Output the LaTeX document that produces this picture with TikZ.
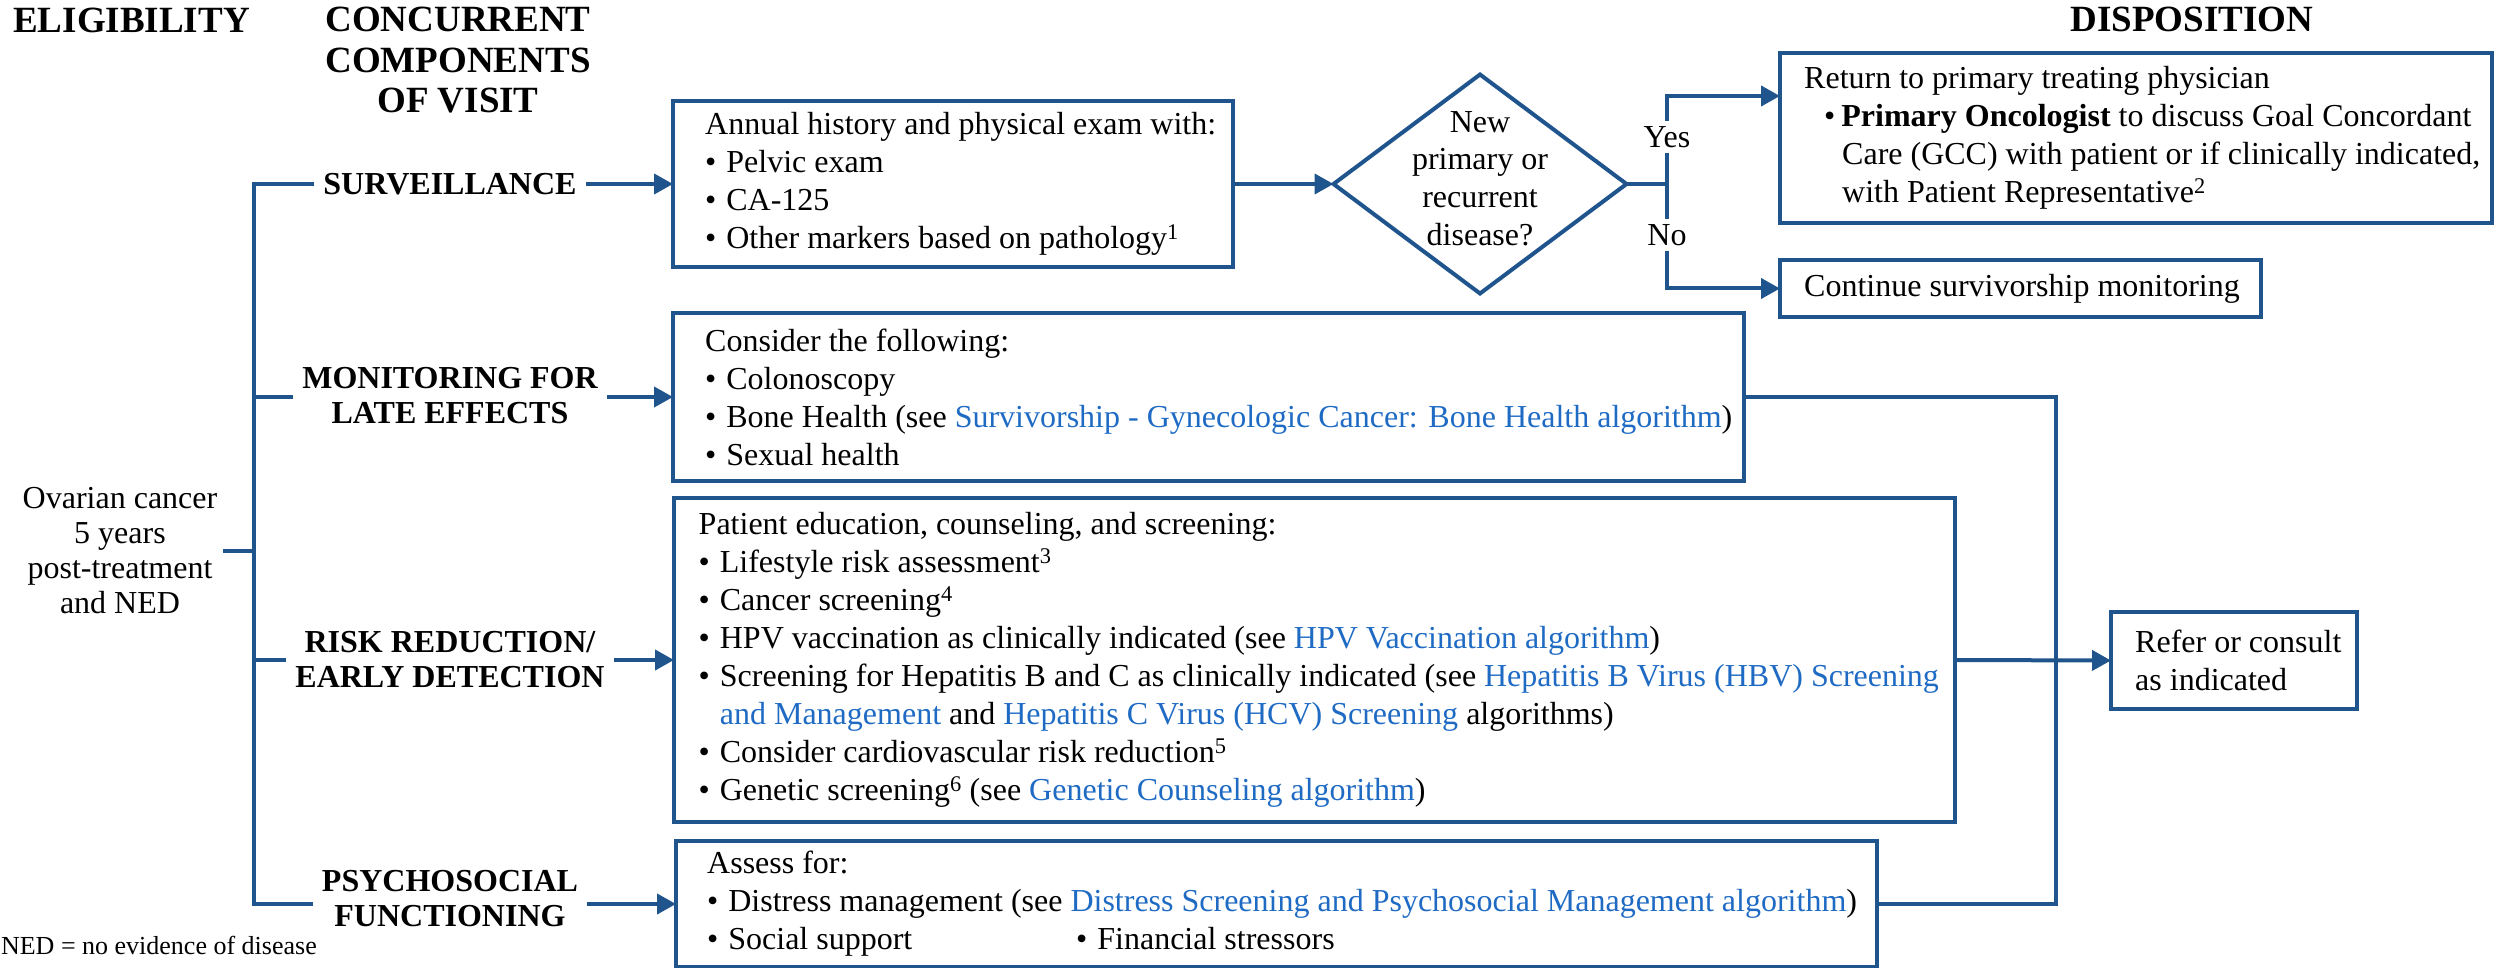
\documentclass[tikz,border=0pt]{standalone}
\usepackage{fontspec}
\setmainfont{Liberation Serif}
\usetikzlibrary{shapes.geometric,arrows.meta,calc}
\definecolor{nccnblue}{HTML}{1F548C}
\definecolor{linkblue}{HTML}{1F6BC4}
\newcommand{\lnk}[1]{\textcolor{linkblue}{#1}}
\newcommand{\bul}{\textbullet\hspace{10pt}}
\begin{document}
\begin{tikzpicture}[x=1pt,y=-1pt,
  line/.style={draw=nccnblue, line width=4pt},
  arr/.style={draw=nccnblue, line width=4pt, -{Triangle[length=19pt,width=20pt]}},
  box/.style={draw=nccnblue, line width=4pt, anchor=north west, inner sep=0pt, outer sep=0pt},
  body/.style={font=\fontsize{32}{38}\selectfont, align=left, inner sep=0pt, anchor=west},
  lbl/.style={font=\fontsize{32}{35}\selectfont\bfseries, align=center, inner xsep=9pt, inner ysep=2pt},
  hdr/.style={font=\fontsize{37}{40.5}\selectfont\bfseries, align=center, inner sep=0pt},
  yn/.style={font=\fontsize{32}{38}\selectfont, inner sep=5pt},
]
\useasboundingbox (0,0) rectangle (2513,968);

% headers
\node[hdr] (hElig) at (131.5,20) {ELIGIBILITY};
\node[hdr] (hConc) at (458,60.5) {CONCURRENT\\COMPONENTS\\OF VISIT};
\node[hdr] (hDisp) at (2192,19) {DISPOSITION};

% eligibility
\node[font=\fontsize{32}{35}\selectfont, align=center, inner xsep=6pt, inner ysep=0pt] (ov) at (120,551) {Ovarian cancer\\5 years\\post-treatment\\and NED};
\node[font=\fontsize{26}{30}\selectfont, anchor=east, inner sep=0pt] (ned) at (317,945) {NED = no evidence of disease};

% component labels
\node[lbl] (lsurv) at (450,184) {SURVEILLANCE};
\node[lbl] (lmon) at (450,396) {MONITORING FOR\\LATE EFFECTS};
\node[lbl] (lrisk) at (450,660) {RISK REDUCTION/\\EARLY DETECTION};
\node[lbl] (lpsy) at (450,899) {PSYCHOSOCIAL\\FUNCTIONING};

\coordinate (tTop) at (253.6,184);
\coordinate (tBot) at (253.6,904);

% boxes
\node[box, minimum width=560pt, minimum height=166pt] (survBox) at (673,101) {};
\node[box, minimum width=1071pt, minimum height=168pt] (monBox) at (673,313) {};
\node[box, minimum width=1281pt, minimum height=324pt] (riskBox) at (674,498) {};
\node[box, minimum width=1201pt, minimum height=126pt] (psyBox) at (676,841) {};
\node[box, minimum width=712pt, minimum height=170pt] (retBox) at (1780,53) {};
\node[box, minimum width=481pt, minimum height=57pt] (contBox) at (1780,260) {};
\node[box, minimum width=246pt, minimum height=97pt] (referBox) at (2111,612) {};

\node[diamond, draw=nccnblue, line width=4pt, minimum width=293pt, minimum height=219pt, inner sep=0pt, outer sep=0pt] (dia) at (1480,184) {};
\node[font=\fontsize{32}{37.7}\selectfont, align=center, inner sep=0pt] (diaTxt) at (1480,178.5) {New\\primary or\\recurrent\\disease?};

% box texts
\node[body] (survTxt) at ($(survBox.west)+(32,0)$) {Annual history and physical exam with:\\
\bul Pelvic exam\\
\bul CA-125\\
\bul Other markers based on pathology\textsuperscript{1}};

\node[body] (monTxt) at ($(monBox.west)+(32,0)$) {Consider the following:\\
\bul Colonoscopy\\
\bul Bone Health (see \lnk{Survivorship - Gynecologic Cancer: Bone Health algorithm})\\
\bul Sexual health};

\node[body] (riskTxt) at ($(riskBox.west)+(24.5,0)$) {Patient education, counseling, and screening:\\
\bul Lifestyle risk assessment\textsuperscript{3}\\
\bul Cancer screening\textsuperscript{4}\\
\bul HPV vaccination as clinically indicated (see \lnk{HPV Vaccination algorithm})\\
\bul Screening for Hepatitis B and C as clinically indicated (see \lnk{Hepatitis B Virus (HBV) Screening}\\
\hspace*{21.2pt}\lnk{and Management} and \lnk{Hepatitis C Virus (HCV) Screening} algorithms)\\
\bul Consider cardiovascular risk reduction\textsuperscript{5}\\
\bul Genetic screening\textsuperscript{6} (see \lnk{Genetic Counseling algorithm})};

\node[body] (psyTxt) at ($(psyBox.west)+(31,0)$) {Assess for:\\
\bul Distress management (see \lnk{Distress Screening and Psychosocial Management algorithm})\\
\makebox[369pt][l]{\bul Social support}\bul Financial stressors};

\node[body] (retTxt) at ($(retBox.west)+(24,0)$) {Return to primary treating physician\\
\hspace*{20pt}\textbullet\hspace{6pt}\textbf{Primary Oncologist} to discuss Goal Concordant\\
\hspace*{38pt}Care (GCC) with patient or if clinically indicated,\\
\hspace*{38pt}with Patient Representative\textsuperscript{2}};

\node[body] (contTxt) at ($(contBox.west)+(24,0)$) {Continue survivorship monitoring};
\node[body] (referTxt) at ($(referBox.west)+(24,0)$) {Refer or consult\\as indicated};

% yes / no
\node[yn] (yes) at (1667,137) {Yes};
\node[yn] (no) at (1667,235) {No};

% connectors
\draw[line] (ov.east) -- (ov.east -| tTop);
\draw[line] (lsurv.west |- tTop) -- (tTop) -- (tBot) -- (tBot -| lpsy.west);
\draw[line] (lmon.west |- monBox.west) -- (monBox.west -| tTop);
\draw[line] (lrisk.west |- riskBox.west) -- (riskBox.west -| tTop);
\draw[arr] (lsurv.east |- survBox.west) -- (survBox.west);
\draw[arr] (lmon.east |- monBox.west) -- (monBox.west);
\draw[arr] (lrisk.east |- riskBox.west) -- (riskBox.west);
\draw[arr] (tBot -| lpsy.east) -- (psyBox.west);

\draw[arr] (survBox.east) -- (dia.west);
\draw[line] (dia.east) -- (dia.east -| yes.south);
\draw[line] (yes.south) -- (no.north);
\draw[arr] (yes.north) |- ([yshift=42pt]retBox.west);
\draw[arr] (no.south) |- (contBox.west);

\coordinate (rX) at (2056,0);
\draw[line] (monBox.east) -| (rX |- psyBox.east) -- (psyBox.east);
\draw[arr] (riskBox.east) -- (referBox.west);
\end{tikzpicture}
\end{document}
